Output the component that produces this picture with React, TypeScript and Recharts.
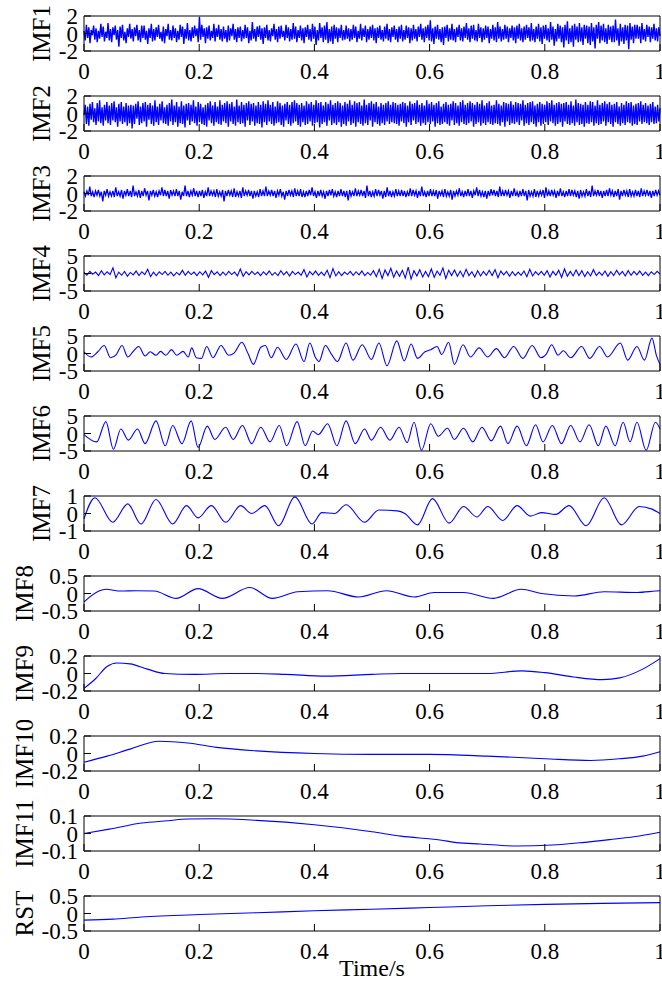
import { LineChart, Line, XAxis, YAxis } from "recharts";

// time axis ticks shared by every panel
const timeTicks = [0, 0.2, 0.4, 0.6, 0.8, 1];

const imf1 = [
  0.3, -0.8, 1.0, -0.5, 0.7, -1.1, 0.4, -0.2, 0.9, -0.7, 0.6, -1.0, 0.3, -0.6, 1.1, -0.4, 0.8, -0.9, 0.2, -0.5,
  1.2, -0.8, 0.5, -1.0, 0.7, -0.2, 0.9, -0.7, 0.4, -1.5, 0.8, -0.5, 1.0, -0.8, 0.2, -1.1, 0.6, -0.4, 1.1, -0.6,
  0.5, -0.9, 0.7, -0.3, 1.0, -0.8, 0.4, -1.0, 0.9, -0.5, 0.9, -0.7, 0.3, -1.2, 0.6, -0.5, 1.1, -0.9, 0.5, -0.8,
  0.7, -0.4, 1.0, -0.6, 0.2, -0.9, 0.8, -1.1, 0.5, -0.3, 1.1, -0.7, 0.4, -0.8, 0.9, -0.5, 0.6, -1.0, 0.3, -0.7,
  1.0, -0.4, 0.8, -1.2, 0.5, -0.6, 1.2, -0.8, 0.4, -0.9, 0.7, -0.5, 0.9, -0.3, 0.6, -1.0, 1.9, -0.7, 1.0, -0.4,
  0.6, -1.1, 0.7, -0.6, 0.9, -0.8, 0.3, -0.5, 1.1, -0.9, 0.6, -0.4, 1.0, -0.7, 0.5, -0.9, 0.8, -0.6, 0.4, -1.0,
  0.9, -0.8, 0.6, -0.3, 1.1, -0.7, 0.5, -1.0, 0.7, -0.5, 0.8, -0.9, 0.4, -0.6, 1.0, -0.5, 0.7, -1.1, 0.3, -0.8,
  1.3, -0.6, 0.5, -0.9, 0.8, -0.4, 0.9, -0.7, 0.6, -1.2, 0.7, -0.5, 1.0, -0.8, 0.4, -0.9, 0.6, -0.3, 1.1, -0.7,
  0.5, -1.0, 0.8, -0.6, 0.9, -0.4, 0.3, -0.8, 1.0, -0.5, 0.7, -0.9, 0.5, -0.7, 1.2, -0.6, 0.8, -1.0, 0.4, -0.5,
  0.9, -0.8, 0.6, -1.1, 0.7, -0.4, 1.0, -0.7, 0.5, -0.9, 1.1, -0.6, 0.8, -1.3, 0.4, -0.8, 1.2, -0.5, 0.7, -1.0,
  0.9, -0.7, 1.3, -1.1, 0.5, -0.9, 0.8, -1.2, 1.0, -0.6, 0.7, -1.0, 0.6, -0.5, 1.0, -0.8, 0.4, -0.7, 0.9, -0.6,
  0.6, -0.9, 0.5, -0.7, 1.0, -0.5, 0.8, -1.0, 0.3, -0.6, 1.1, -0.8, 0.6, -0.4, 0.9, -1.0, 0.5, -0.7, 0.8, -0.5,
  1.0, -0.8, 0.6, -1.1, 0.7, -0.5, 0.9, -0.7, 0.4, -0.9, 0.8, -0.6, 1.1, -0.8, 0.5, -1.0, 0.7, -0.4, 0.9, -0.7,
  0.5, -1.0, 0.8, -0.6, 1.0, -0.9, 0.4, -0.7, 0.9, -0.5, 0.7, -1.1, 0.6, -0.8, 1.0, -0.6, 0.5, -0.9, 0.8, -0.4,
  1.1, -0.7, 0.6, -1.0, 0.8, -0.5, 1.0, -0.8, 1.5, -0.9, 0.6, -1.2, 0.8, -0.6, 1.0, -0.7, 0.5, -1.0, 0.7, -1.3,
  0.8, -0.5, 1.0, -0.9, 0.6, -0.7, 1.1, -0.8, 0.5, -1.0, 0.7, -0.4, 1.0, -0.8, 0.6, -0.9, 0.8, -0.5, 1.2, -0.7,
  0.6, -1.0, 0.9, -0.6, 1.0, -0.8, 0.4, -0.9, 1.1, -0.5, 0.7, -1.0, 0.6, -0.7, 0.9, -0.5, 0.8, -1.1, 0.5, -0.6,
  1.0, -0.8, 0.7, -1.0, 1.3, -0.6, 0.8, -0.9, 0.5, -0.7, 1.0, -0.6, 0.8, -1.0, 0.6, -0.5, 0.9, -0.8, 0.7, -1.1,
  0.9, -0.6, 1.1, -0.8, 0.6, -1.0, 0.8, -0.7, 1.0, -0.5, 0.7, -0.9, 1.2, -0.8, 0.5, -1.0, 0.8, -0.6, 1.1, -0.9,
  0.7, -1.2, 0.9, -0.6, 1.0, -0.8, 0.6, -1.0, 1.3, -0.7, 0.8, -1.4, 0.5, -0.9, 1.1, -0.6, 0.9, -1.0, 0.7, -1.6,
  1.0, -0.8, 1.4, -1.2, 0.6, -1.0, 0.9, -1.5, 1.1, -0.7, 0.8, -1.0, 1.2, -0.9, 0.7, -1.3, 1.0, -0.6, 0.9, -1.1,
  0.8, -1.3, 1.2, -0.9, 0.7, -1.7, 1.0, -0.6, 1.3, -1.1, 0.9, -0.8, 1.1, -1.0, 0.6, -1.2, 1.0, -0.7, 0.8, -1.0,
  0.9, -1.0, 1.6, -0.8, 0.6, -1.4, 1.1, -0.9, 0.7, -1.2, 1.0, -0.8, 0.9, -1.8, 1.2, -0.7, 0.8, -1.1, 1.0, -0.6,
  1.0, -0.6, 0.8, -1.1, 1.2, -0.7, 0.5, -0.9, 1.0, -0.4, 0.8, -1.0, 0.7, -0.6, 1.1, -0.8, 0.6, -0.9, 0.7, -0.3,
];

const imf2 = [
  -0.2, 1.0, -1.2, 0.8, -1.4, 1.1, -0.7, 1.3, -1.0, 0.6, -1.3, 1.2, -0.9, 1.5, -1.1, 0.7, -1.4, 1.0, -0.8, 1.3,
  -1.1, 0.9, -1.3, 1.2, -0.8, 1.4, -1.0, 0.7, -1.5, 1.1, -0.9, 1.3, -1.2, 0.8, -1.0, 1.2, -1.4, 0.9, -1.1, 1.0,
  -1.7, 0.9, -1.2, 1.1, -0.6, 1.4, -1.3, 0.8, -1.1, 1.2, -0.9, 1.3, -1.5, 1.0, -0.7, 1.2, -1.2, 0.9, -1.4, 1.5,
  -1.0, 0.8, -1.3, 1.1, -0.8, 1.4, -1.1, 0.7, -1.2, 1.0, -1.4, 1.2, -0.9, 1.6, -1.3, 0.9, -1.0, 1.3, -1.5, 0.8,
  -1.1, 1.4, -1.2, 0.9, -1.6, 1.1, -0.8, 1.2, -1.3, 1.0, -0.9, 1.5, -1.1, 0.8, -1.4, 1.3, -1.0, 1.1, -1.2, 0.7,
  -1.3, 1.0, -1.5, 1.2, -0.8, 1.4, -1.1, 0.9, -1.4, 1.3, -1.0, 0.8, -1.2, 1.5, -1.3, 1.0, -0.9, 1.2, -1.1, 1.4,
  -1.5, 1.1, -0.9, 1.3, -1.2, 0.8, -1.4, 1.6, -1.0, 0.9, -1.2, 1.3, -1.1, 1.0, -1.5, 1.2, -0.8, 1.4, -1.3, 1.1,
  -0.9, 1.2, -1.4, 0.9, -1.1, 1.3, -1.2, 1.0, -1.6, 1.4, -1.0, 1.1, -1.3, 1.5, -0.9, 1.0, -1.2, 1.3, -1.4, 0.8,
  -1.1, 1.4, -1.0, 1.2, -1.3, 0.9, -1.5, 1.1, -0.8, 1.3, -1.2, 1.0, -1.4, 1.3, -1.1, 1.5, -0.9, 1.2, -1.3, 1.0,
  -1.5, 1.2, -1.0, 0.9, -1.3, 1.4, -1.2, 1.1, -0.9, 1.3, -1.4, 1.0, -1.1, 1.5, -1.0, 1.2, -1.6, 1.3, -1.2, 0.9,
  -1.0, 1.3, -1.4, 1.1, -0.8, 1.5, -1.3, 1.0, -1.1, 1.2, -1.3, 1.4, -1.0, 1.2, -1.5, 0.9, -1.2, 1.3, -1.4, 1.1,
  -0.9, 1.5, -1.3, 1.0, -1.1, 1.4, -1.5, 1.2, -1.0, 1.3, -1.2, 0.9, -1.4, 1.6, -1.1, 1.0, -1.3, 1.2, -0.8, 1.4,
  -1.5, 1.1, -1.0, 1.3, -1.2, 0.8, -1.4, 1.2, -1.1, 1.0, -1.3, 1.2, -0.9, 1.4, -1.2, 1.0, -1.0, 1.3, -1.1, 1.2,
  -1.2, 1.0, -1.4, 1.1, -0.9, 1.3, -1.1, 1.2, -1.5, 0.9, -1.0, 1.4, -1.3, 1.1, -0.8, 1.2, -1.2, 1.5, -1.0, 1.0,
  -1.4, 1.2, -1.1, 0.9, -1.3, 1.5, -1.0, 1.1, -1.2, 1.3, -0.9, 1.0, -1.5, 1.2, -1.1, 1.4, -1.3, 0.8, -1.2, 1.1,
  -1.0, 1.3, -1.2, 1.0, -1.4, 1.1, -0.8, 1.4, -1.3, 1.2, -1.1, 0.9, -1.4, 1.3, -1.0, 1.5, -1.2, 1.0, -1.3, 1.2,
  -1.1, 1.4, -0.9, 1.2, -1.5, 1.0, -1.2, 1.3, -1.0, 1.1, -1.4, 1.5, -1.1, 0.9, -1.3, 1.2, -1.0, 1.4, -1.2, 0.9,
  -1.3, 1.0, -1.1, 1.5, -1.2, 1.1, -1.4, 0.9, -1.0, 1.3, -1.5, 1.2, -0.9, 1.1, -1.3, 1.4, -1.1, 1.0, -1.2, 1.3,
  -1.0, 1.2, -1.3, 1.1, -0.8, 1.5, -1.4, 1.0, -1.1, 1.2, -1.3, 1.3, -1.0, 1.4, -1.2, 0.9, -1.5, 1.1, -1.0, 1.3,
  -1.4, 1.1, -1.2, 1.0, -1.0, 1.4, -1.3, 1.2, -0.9, 1.5, -1.1, 1.0, -1.4, 1.2, -1.2, 1.3, -1.0, 1.1, -1.5, 1.2,
  -0.9, 1.3, -1.2, 1.0, -1.3, 1.4, -1.1, 0.9, -1.4, 1.6, -1.0, 1.2, -1.3, 1.1, -1.2, 1.0, -1.5, 1.3, -1.1, 1.0,
  -1.2, 1.4, -1.0, 1.3, -1.4, 0.9, -1.1, 1.5, -1.3, 1.0, -1.2, 1.2, -0.9, 1.4, -1.4, 1.1, -1.0, 1.3, -1.2, 1.0,
  -1.5, 1.1, -1.0, 1.3, -1.2, 0.8, -1.4, 1.2, -1.1, 1.0, -1.3, 1.4, -1.0, 1.2, -1.1, 1.3, -1.4, 0.9, -1.2, 1.1,
  -1.3, 1.2, -0.9, 1.4, -1.2, 1.0, -1.0, 1.2, -1.1, 0.9, -1.3, 1.1, -1.0, 1.3, -1.2, 0.8, -1.1, 1.0, -0.9, 0.6,
];

const imf3 = [
  0.2, -0.3, 0.3, -0.2, 0.8, -0.3, 0.2, -0.4, 0.3, -0.2, 0.4, -0.3, 0.2, -0.9, 0.3, -0.2, 0.5, -0.3, 0.2, -0.3,
  0.3, -0.4, 0.7, -0.3, 0.2, -0.3, 0.4, -0.6, 0.3, -0.2, 0.5, -0.3, 0.3, -0.4, 0.9, -0.3, 0.2, -0.3, 0.4, -0.5,
  0.3, -0.3, 0.6, -0.2, 0.3, -0.8, 0.3, -0.2, 0.4, -0.3, 0.2, -0.4, 0.3, -0.2, 0.7, -0.3, 0.4, -0.3, 0.3, -0.6,
  0.4, -0.2, 0.3, -0.3, 0.5, -0.3, 0.3, -0.7, 0.2, -0.3, 0.9, -0.3, 0.3, -0.4, 0.3, -0.2, 0.6, -0.3, 0.3, -0.4,
  0.3, -0.3, 0.4, -0.5, 0.2, -0.3, 0.7, -0.3, 0.3, -0.2, 0.3, -0.4, 0.5, -0.3, 0.2, -0.3, 0.4, -0.9, 0.3, -0.3,
  0.4, -0.2, 0.3, -0.4, 0.6, -0.4, 0.2, -0.3, 0.3, -0.5, 0.7, -0.3, 0.3, -0.2, 0.4, -0.3, 0.3, -0.6, 0.3, -0.3,
  0.2, -0.4, 0.5, -0.3, 0.3, -0.3, 0.8, -0.3, 0.3, -0.2, 0.4, -0.3, 0.3, -0.5, 0.3, -0.2, 0.5, -0.3, 0.2, -0.7,
  0.3, -0.3, 0.4, -0.2, 0.3, -0.4, 0.6, -0.3, 0.3, -0.3, 0.5, -0.4, 0.2, -0.4, 0.3, -0.3, 0.4, -0.2, 0.7, -0.3,
  0.2, -0.5, 0.3, -0.3, 0.4, -0.3, 0.2, -0.6, 0.3, -0.3, 0.4, -0.2, 0.5, -0.3, 0.2, -0.4, 0.3, -0.3, 0.5, -0.3,
  0.3, -0.4, 0.3, -0.8, 0.4, -0.3, 0.2, -0.3, 0.6, -0.3, 0.3, -0.2, 0.4, -0.3, 0.3, -0.5, 0.9, -0.3, 0.3, -0.4,
  0.2, -0.3, 0.5, -0.3, 0.4, -0.2, 0.3, -0.6, 0.3, -0.4, 0.7, -0.3, 0.3, -0.4, 0.2, -0.3, 0.5, -0.3, 0.3, -0.3,
  0.4, -0.3, 0.3, -0.4, 0.2, -0.3, 0.6, -0.3, 0.4, -0.2, 0.3, -0.5, 0.3, -0.3, 0.8, -0.3, 0.2, -0.4, 0.3, -0.3,
  0.5, -0.3, 0.3, -0.3, 0.4, -0.6, 0.3, -0.2, 0.3, -0.4, 0.5, -0.3, 0.2, -0.3, 0.4, -0.7, 0.3, -0.3, 0.3, -0.2,
  0.6, -0.3, 0.2, -0.4, 0.3, -0.3, 0.5, -0.3, 0.3, -0.5, 0.3, -0.2, 0.7, -0.3, 0.4, -0.3, 0.2, -0.4, 0.3, -0.6,
  0.3, -0.3, 0.5, -0.2, 0.4, -0.3, 0.3, -0.4, 0.8, -0.3, 0.3, -0.3, 0.4, -0.2, 0.3, -0.5, 0.3, -0.3, 0.6, -0.3,
  0.2, -0.4, 0.3, -0.3, 0.5, -0.3, 0.3, -0.8, 0.4, -0.3, 0.2, -0.3, 0.5, -0.4, 0.3, -0.3, 0.3, -0.2, 0.4, -0.5,
  0.7, -0.3, 0.3, -0.3, 0.4, -0.2, 0.3, -0.5, 0.3, -0.3, 0.6, -0.3, 0.2, -0.4, 0.3, -0.3, 0.5, -0.3, 0.4, -0.2,
  0.3, -0.4, 0.3, -0.6, 0.4, -0.3, 0.2, -0.3, 0.5, -0.3, 0.3, -0.4, 0.9, -0.3, 0.3, -0.2, 0.4, -0.3, 0.3, -0.5,
  0.3, -0.3, 0.4, -0.3, 0.6, -0.2, 0.3, -0.4, 0.3, -0.3, 0.5, -0.7, 0.3, -0.3, 0.4, -0.2, 0.3, -0.4, 0.5, -0.3,
  0.2, -0.3, 0.4, -0.3, 0.3, -0.4, 0.6, -0.3, 0.3, -0.2, 0.4, -0.3, 0.3, -0.5, 0.3, -0.3, 0.4, -0.2, 0.3, -0.2,
];

const imf4 = [
  0.3, -0.5, 0.6, -0.2, 0.4, -0.6, 0.8, -0.4, 0.5, -0.3, 1.6, -1.2, 0.4, -0.5, 0.6, -0.8, 0.3, -0.4, 0.7, -0.6,
  0.5, -0.3, 1.2, -0.9, 0.4, -0.6, 0.5, -0.3, 0.6, -0.5, 0.4, -0.7, 0.3, -0.4, 0.9, -0.5, 0.6, -0.3, 0.4, -0.6,
  0.5, -0.4, 0.7, -1.1, 0.8, -0.3, 0.5, -0.6, 0.4, -0.5, 0.6, -0.3, 0.4, -0.7, 1.3, -0.8, 0.5, -0.4, 0.6, -0.3,
  0.4, -0.6, 0.5, -0.4, 0.7, -0.5, 0.3, -0.6, 0.8, -0.4, 0.5, -0.7, 0.6, -0.3, 0.4, -0.5, 1.1, -1.0, 0.6, -0.4,
  0.7, -0.5, 0.4, -0.6, 0.9, -1.2, 1.4, -0.7, 0.5, -0.6, 0.4, -0.3, 0.6, -0.5, 0.5, -0.4, 0.7, -0.6, 0.3, -0.5,
  0.8, -0.9, 1.2, -1.4, 1.0, -0.6, 1.5, -1.1, 0.7, -0.8, 0.9, -1.3, 1.8, -1.6, 0.8, -0.7, 1.1, -1.0, 0.6, -0.9,
  1.3, -1.1, 0.7, -0.5, 1.6, -1.4, 0.9, -0.6, 1.0, -0.8, 0.7, -0.9, 1.2, -0.6, 0.5, -1.0, 0.8, -0.7, 0.6, -0.5,
  0.9, -0.6, 1.1, -1.2, 0.7, -0.4, 0.6, -0.8, 0.5, -0.6, 0.4, -0.5, 0.7, -0.9, 1.2, -0.7, 0.5, -0.4, 0.6, -0.5,
  0.8, -1.0, 0.6, -0.5, 0.9, -1.1, 1.3, -0.8, 0.6, -0.7, 1.0, -0.6, 0.8, -0.9, 0.5, -0.7, 1.1, -0.6, 0.4, -0.5,
  0.7, -0.8, 0.5, -0.6, 0.9, -0.4, 0.6, -0.7, 0.8, -0.5, 0.6, -0.4, 0.7, -0.5, 0.4, -0.6, 0.5, -0.3, 0.6, -0.2,
];

// IMF5..RST: [time, value] at the turning points
const imf5 = [
  [0, 0.5], [0.012, -1.0], [0.024, 0.5], [0.035, 2.3], [0.046, -1.2], [0.056, -0.3],
  [0.066, 2.3], [0.076, -1.0], [0.085, 0.5], [0.095, 2.0], [0.106, -0.7], [0.115, 0.5],
  [0.125, -0.5], [0.133, 0.6], [0.142, -0.5], [0.152, 1.1], [0.161, -0.5], [0.172, 0.6],
  [0.181, -1.0], [0.187, 1.6], [0.195, -1.2], [0.204, -1.4], [0.213, 2.0], [0.224, -1.2],
  [0.238, 2.3], [0.251, -0.5], [0.261, 0.2], [0.274, 3.2], [0.285, -0.1], [0.294, -3.1],
  [0.307, 1.8], [0.315, 2.3], [0.325, -1.2], [0.336, 1.8], [0.351, -1.7], [0.368, 2.7],
  [0.382, -2.3], [0.392, 3.0], [0.402, -1.2], [0.408, -2.3], [0.419, 2.3], [0.43, -0.3],
  [0.44, -2.3], [0.455, 3.0], [0.467, -1.9], [0.483, 2.5], [0.499, -1.7], [0.512, 3.0],
  [0.526, -3.5], [0.543, 3.6], [0.556, -2.1], [0.568, 2.7], [0.579, -1.4], [0.592, 0.5],
  [0.602, 1.1], [0.613, 2.0], [0.621, -0.3], [0.633, 3.2], [0.643, -3.1], [0.658, 2.5],
  [0.671, -1.0], [0.686, 1.6], [0.701, -1.0], [0.716, 1.4], [0.73, -1.2], [0.746, 2.0],
  [0.762, -1.4], [0.778, 2.3], [0.793, -1.2], [0.802, -0.3], [0.812, 2.5], [0.823, -0.5],
  [0.832, 0.8], [0.845, -1.2], [0.864, 2.0], [0.878, -1.4], [0.895, 2.0], [0.909, -1.0],
  [0.931, 3.0], [0.944, -1.9], [0.96, 2.0], [0.973, -1.9], [0.986, 4.4], [0.994, -0.7],
  [1, -3.1],
];

const imf6 = [
  [0, -0.3], [0.022, -2.4], [0.038, 3.4], [0.051, -4.5], [0.064, 1.3], [0.077, -1.9],
  [0.093, 1.3], [0.106, -2.9], [0.125, 3.6], [0.141, -3.5], [0.154, 2.3], [0.17, -2.9],
  [0.186, 3.6], [0.198, -4.0], [0.214, 2.1], [0.227, -1.7], [0.246, 1.8], [0.259, -1.7],
  [0.275, 2.3], [0.291, -2.9], [0.307, 1.8], [0.323, -2.4], [0.339, 2.3], [0.352, -3.5],
  [0.37, 3.4], [0.384, -3.5], [0.397, 0.7], [0.407, -0.3], [0.423, 2.8], [0.439, -3.5],
  [0.455, 3.6], [0.471, -2.9], [0.487, 1.3], [0.499, -1.9], [0.515, 1.8], [0.531, -1.9],
  [0.547, 1.8], [0.561, -2.6], [0.573, 3.2], [0.586, -4.8], [0.602, 2.8], [0.615, -0.8],
  [0.631, 1.5], [0.643, -1.7], [0.659, 1.5], [0.675, -2.4], [0.691, 1.8], [0.707, -2.1],
  [0.723, 2.1], [0.736, -2.9], [0.752, 2.1], [0.768, -3.5], [0.784, 2.5], [0.797, -2.4],
  [0.813, 2.3], [0.829, -2.9], [0.845, 2.3], [0.861, -2.4], [0.877, 2.5], [0.893, -3.5],
  [0.906, 2.1], [0.922, -3.5], [0.936, 3.2], [0.948, -2.4], [0.96, 3.2], [0.976, -4.8],
  [0.992, 3.2], [1, 1.3],
];

const imf7 = [
  [0, -0.3], [0.019, 0.9], [0.05, -0.5], [0.076, 0.55], [0.099, -0.6], [0.125, 0.8],
  [0.154, -0.6], [0.178, 0.45], [0.198, -0.25], [0.221, 0.45], [0.246, -0.5], [0.272, 0.45],
  [0.291, 0.0], [0.314, 0.45], [0.338, -0.7], [0.366, 0.95], [0.396, -0.6], [0.413, 0.05],
  [0.435, 0.0], [0.455, 0.5], [0.487, -0.5], [0.512, 0.2], [0.544, 0.15], [0.557, 0.0],
  [0.579, -0.65], [0.605, 0.85], [0.634, -0.55], [0.659, 0.4], [0.682, -0.2], [0.701, 0.4],
  [0.727, -0.4], [0.752, 0.45], [0.775, -0.15], [0.794, 0.05], [0.819, -0.05], [0.842, 0.45],
  [0.872, -0.7], [0.903, 0.9], [0.933, -0.65], [0.964, 0.4], [0.986, 0.25], [1, 0.0],
];

const imf8 = [
  [0, -0.24], [0.026, 0.07], [0.038, 0.12], [0.064, 0.07], [0.09, 0.08], [0.122, 0.07],
  [0.16, -0.14], [0.198, 0.14], [0.24, -0.14], [0.288, 0.17], [0.327, -0.14], [0.371, 0.05],
  [0.423, 0.08], [0.477, -0.1], [0.525, 0.08], [0.573, -0.1], [0.608, 0.03], [0.659, 0.03],
  [0.711, -0.14], [0.759, 0.12], [0.794, 0.0], [0.851, -0.07], [0.903, 0.05], [0.96, 0.03],
  [0.992, 0.07], [1, 0.08],
];

const imf9 = [
  [0, -0.17], [0.02, -0.06], [0.04, 0.08], [0.057, 0.12], [0.08, 0.11], [0.11, 0.05],
  [0.14, 0.0], [0.19, -0.01], [0.25, 0.0], [0.3, 0.0], [0.35, -0.01], [0.42, -0.03],
  [0.5, -0.01], [0.55, 0.0], [0.62, 0.0], [0.7, 0.0], [0.76, 0.03], [0.8, 0.01],
  [0.85, -0.04], [0.9, -0.07], [0.93, -0.05], [0.97, 0.05], [1, 0.17],
];

const imf10 = [
  [0, -0.1], [0.04, -0.03], [0.08, 0.05], [0.13, 0.14], [0.18, 0.12], [0.23, 0.07],
  [0.3, 0.03], [0.4, 0.0], [0.5, -0.01], [0.6, -0.01], [0.7, -0.03], [0.8, -0.06],
  [0.88, -0.08], [0.93, -0.06], [0.97, -0.03], [1, 0.02],
];

const imf11 = [
  [0, 0.0], [0.044, 0.025], [0.1, 0.06], [0.146, 0.073], [0.18, 0.083], [0.225, 0.084],
  [0.3, 0.075], [0.4, 0.05], [0.5, 0.01], [0.55, -0.015], [0.618, -0.037], [0.647, -0.052],
  [0.688, -0.06], [0.75, -0.071], [0.813, -0.066], [0.865, -0.052], [0.917, -0.033],
  [0.964, -0.014], [1, 0.007],
];

const rst = [
  [0, -0.19], [0.05, -0.16], [0.1, -0.1], [0.2, -0.03], [0.3, 0.02], [0.4, 0.08],
  [0.5, 0.12], [0.6, 0.17], [0.7, 0.22], [0.8, 0.26], [0.9, 0.29], [1, 0.31],
];

const even = (vals: number[]) => vals.map((v, i) => ({ t: i / (vals.length - 1), v }));
const pairs = (pts: number[][]) => pts.map(([t, v]) => ({ t, v }));

const panels = [
  { name: "IMF1", data: even(imf1), lim: 2, ticks: [-2, 0, 2], sw: 1.4, curve: "linear", labelX: 41 },
  { name: "IMF2", data: even(imf2), lim: 2, ticks: [-2, 0, 2], sw: 1.4, curve: "linear", labelX: 41 },
  { name: "IMF3", data: even(imf3), lim: 2, ticks: [-2, 0, 2], sw: 1.3, curve: "linear", labelX: 41 },
  { name: "IMF4", data: even(imf4), lim: 5, ticks: [-5, 0, 5], sw: 1.1, curve: "linear", labelX: 41 },
  { name: "IMF5", data: pairs(imf5), lim: 5, ticks: [-5, 0, 5], sw: 1.1, curve: "monotone", labelX: 41 },
  { name: "IMF6", data: pairs(imf6), lim: 5, ticks: [-5, 0, 5], sw: 1.1, curve: "monotone", labelX: 41 },
  { name: "IMF7", data: pairs(imf7), lim: 1, ticks: [-1, 0, 1], sw: 1.1, curve: "monotone", labelX: 41 },
  { name: "IMF8", data: pairs(imf8), lim: 0.5, ticks: [-0.5, 0, 0.5], sw: 1.1, curve: "monotone", labelX: 24 },
  { name: "IMF9", data: pairs(imf9), lim: 0.2, ticks: [-0.2, 0, 0.2], sw: 1.1, curve: "monotone", labelX: 24 },
  { name: "IMF10", data: pairs(imf10), lim: 0.2, ticks: [-0.2, 0, 0.2], sw: 1.1, curve: "monotone", labelX: 24 },
  { name: "IMF11", data: pairs(imf11), lim: 0.1, ticks: [-0.1, 0, 0.1], sw: 1.1, curve: "monotone", labelX: 24 },
  { name: "RST", data: pairs(rst), lim: 0.5, ticks: [-0.5, 0, 0.5], sw: 1.1, curve: "monotone", labelX: 24 },
];

const serif = "'Liberation Serif', 'Times New Roman', serif";
const tickFont = { fill: "#000", fontSize: 23, fontFamily: serif };

function Panel({ p, top }: { p: (typeof panels)[number]; top: number }) {
  return (
    <div style={{ position: "absolute", left: 0, top }}>
      <LineChart width={662} height={88} data={p.data} margin={{ top: 15, right: 1, bottom: 0, left: 0 }}>
        <XAxis
          xAxisId="b"
          dataKey="t"
          type="number"
          domain={[0, 1]}
          ticks={timeTicks}
          interval={0}
          height={37}
          tickSize={-7}
          tickMargin={19}
          stroke="#000"
          tick={tickFont}
        />
        <XAxis
          xAxisId="t"
          orientation="top"
          dataKey="t"
          type="number"
          domain={[0, 1]}
          ticks={timeTicks}
          interval={0}
          height={1}
          tickSize={-7}
          tick={false}
          stroke="#000"
        />
        <YAxis
          yAxisId="l"
          type="number"
          domain={[-p.lim, p.lim]}
          ticks={p.ticks}
          interval={0}
          allowDataOverflow
          width={84}
          tickSize={-7}
          tickMargin={13}
          stroke="#000"
          tick={tickFont}
          label={{
            value: p.name,
            angle: -90,
            position: "insideLeft",
            offset: p.labelX,
            fill: "#000",
            fontSize: 25,
            fontFamily: serif,
            style: { textAnchor: "middle" },
          }}
        />
        <YAxis
          yAxisId="r"
          orientation="right"
          type="number"
          domain={[-p.lim, p.lim]}
          ticks={p.ticks}
          interval={0}
          allowDataOverflow
          width={1}
          tickSize={-7}
          tick={false}
          stroke="#000"
        />
        <Line
          xAxisId="b"
          yAxisId="l"
          dataKey="v"
          type={p.curve as "linear" | "monotone"}
          stroke="#0000ff"
          strokeWidth={p.sw}
          dot={false}
          isAnimationActive={false}
        />
      </LineChart>
    </div>
  );
}

export default function App() {
  return (
    <div
      style={{
        position: "absolute",
        left: 0,
        top: 0,
        width: 662,
        height: 995,
        background: "#fff",
        fontFamily: serif,
      }}
    >
      {panels.map((p, i) => (
        <Panel key={p.name} p={p} top={i * 80} />
      ))}
      <div
        style={{
          position: "absolute",
          left: 84,
          width: 576,
          top: 955,
          textAlign: "center",
          fontSize: 24,
          color: "#000",
        }}
      >
        Time/s
      </div>
    </div>
  );
}
